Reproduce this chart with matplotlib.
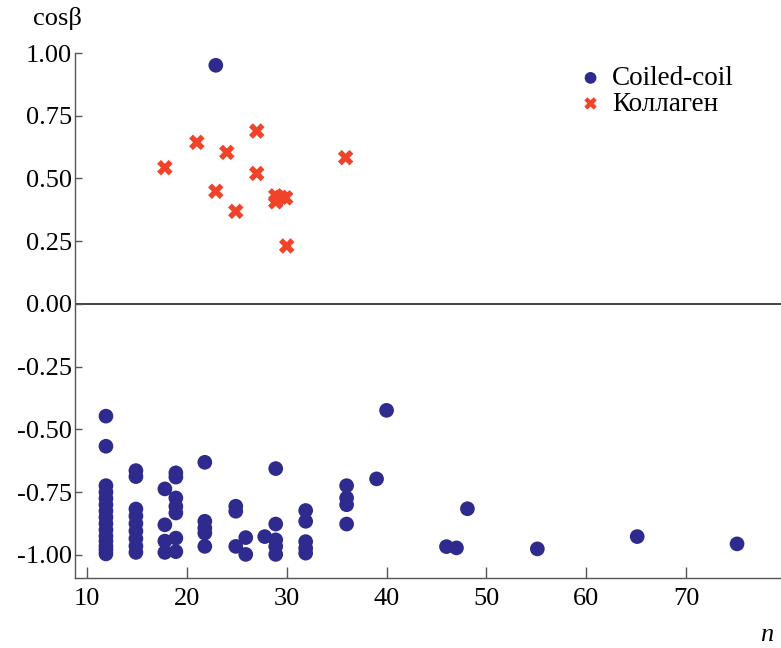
import matplotlib.pyplot as plt

plt.rcParams['font.family'] = ['Liberation Serif', 'DejaVu Serif']

# Coiled-coil points (n, cos beta)
coil_n = [22.9,
          11.9, 11.9, 11.9, 11.9, 11.9, 11.9, 11.9, 11.9, 11.9, 11.9, 11.9, 11.9, 11.9, 11.9, 11.9,
          14.9, 14.9, 14.9, 14.9, 14.9, 14.9, 14.9, 14.9, 14.9,
          17.8, 17.8, 17.8, 17.8,
          18.9, 18.9, 18.9, 18.9, 18.9, 18.9, 18.9,
          21.8, 21.8, 21.8, 21.8, 21.8,
          24.9, 24.9, 24.9,
          25.9, 25.9,
          27.8,
          28.9, 28.9, 28.9, 28.9, 28.9,
          31.9, 31.9, 31.9, 31.9, 31.9,
          36.0, 36.0, 36.0, 36.0,
          39.0, 40.0, 46.0, 47.0, 48.1, 55.1, 65.1, 75.1]
coil_cos = [0.951,
            -0.447, -0.567, -0.724, -0.75, -0.775, -0.80, -0.825, -0.85, -0.875, -0.90, -0.925,
            -0.945, -0.965, -0.98, -0.996,
            -0.664, -0.688, -0.817, -0.845, -0.875, -0.905, -0.935, -0.965, -0.99,
            -0.737, -0.88, -0.945, -0.99,
            -0.673, -0.69, -0.773, -0.807, -0.833, -0.933, -0.987,
            -0.631, -0.866, -0.893, -0.913, -0.966,
            -0.806, -0.826, -0.966,
            -0.931, -0.998,
            -0.927,
            -0.656, -0.877, -0.94, -0.966, -0.998,
            -0.823, -0.866, -0.947, -0.973, -0.993,
            -0.724, -0.773, -0.80, -0.877,
            -0.697, -0.424, -0.967, -0.972, -0.816, -0.976, -0.927, -0.956]

# Collagen points
coll_n = [17.8, 21.0, 24.0, 27.0, 27.0, 22.9, 24.9, 28.9, 28.9, 29.4, 29.9, 30.0, 35.9]
coll_cos = [0.543, 0.644, 0.604, 0.689, 0.52, 0.449, 0.369, 0.431, 0.407, 0.425, 0.423, 0.231, 0.583]

yticks = [1.0, 0.75, 0.5, 0.25, 0.0, -0.25, -0.5, -0.75, -1.0]
ytick_labels = ['1.00', '0.75', '0.50', '0.25', '0.00', '-0.25', '-0.50', '-0.75', '-1.00']

fig = plt.figure(figsize=(7.81, 6.48), dpi=100)
ax = fig.add_axes([75 / 781, 1 - 578 / 648, 1 - 75 / 781, (578 - 53) / 648])

ax.scatter(coil_n, coil_cos, s=112, color='#2f2a8e', edgecolors='none', label='Coiled-coil', zorder=3)
ax.scatter(coll_n, coll_cos, s=125, marker='X', color='#f0432a', edgecolors='none', label='Коллаген', zorder=3)

ax.axhline(0, color='#222222', lw=1.2, zorder=1)

ax.set_xlim(8.8, 79.5)
ax.set_ylim(-1.092, 1.0)
ax.set_xticks([10, 20, 30, 40, 50, 60, 70])
ax.set_yticks(yticks)
ax.set_yticklabels(ytick_labels)

for side in ['top', 'right']:
    ax.spines[side].set_visible(False)
for side in ['left', 'bottom']:
    ax.spines[side].set_color('#555555')
    ax.spines[side].set_linewidth(1.0)

ax.tick_params(axis='x', direction='in', length=8, width=1, color='#555555', labelsize=19, pad=7)
ax.tick_params(axis='y', direction='in', length=5, width=1, color='#555555', labelsize=19, pad=2)

fig.text(57 / 781, 1 - 19 / 648, 'cosβ', fontsize=19, ha='center', va='center')
fig.text(767 / 781, 1 - 635 / 648, 'n', fontsize=19, style='italic', ha='center', va='center')

ax.legend(loc='upper left', bbox_to_anchor=(577 / 781, 1 - 66 / 648), bbox_transform=fig.transFigure,
          frameon=False, fontsize=19.5, handlelength=1.0, handletextpad=0.3, labelspacing=0.02,
          borderaxespad=0, borderpad=0, markerscale=0.8)

fig.savefig('out.png', dpi=100)
